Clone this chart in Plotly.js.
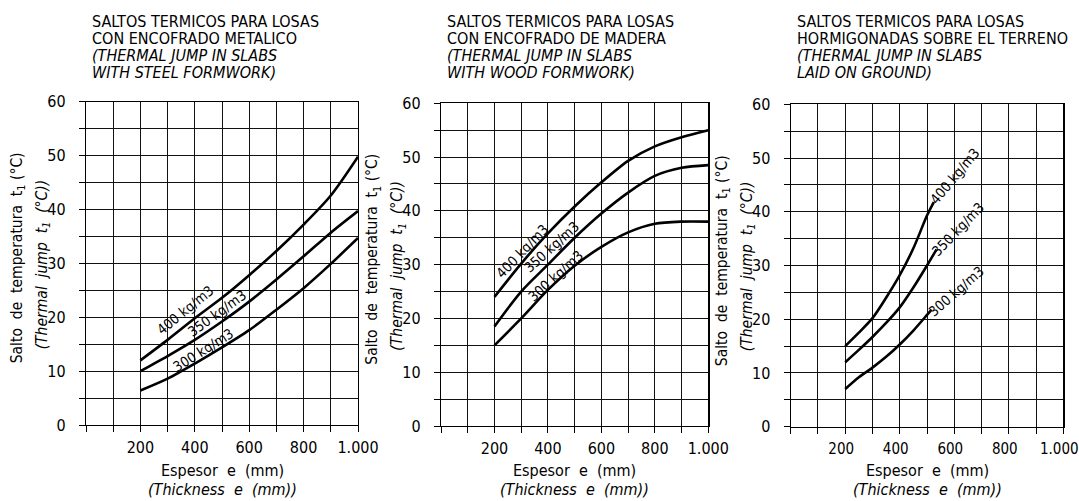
<!DOCTYPE html>
<html><head><meta charset="utf-8">
<script src="https://cdn.plot.ly/plotly-3.0.1.min.js"></script>
<style>html,body{margin:0;padding:0;background:#fff}#chart{width:1079px;height:501px}</style>
</head><body><div id="chart"></div>
<script>
// ---------- data ----------
const thickness = [200, 300, 400, 500, 600, 700, 800, 900, 1000];
const steel400 = [12, 15.8, 19.8, 23.6, 27.8, 32.3, 37.2, 42.6, 49.8];
const steel350 = [10, 12.8, 15.8, 19.2, 22.9, 27, 31.3, 35.7, 39.7];
const steel300 = [6.4, 8.6, 11.4, 14.4, 17.6, 21.4, 25.4, 29.9, 34.7];

const wood400 = [24, 30.2, 35.8, 40.8, 45.3, 49.3, 52, 53.7, 55];
const wood350 = [18.5, 25, 30, 35, 39.5, 43.4, 46.5, 48, 48.5];
const wood300 = [15, 20, 25.3, 29.8, 33.3, 36, 37.6, 38, 38];

const groundX400 = [200, 250, 300, 350, 400, 450, 500, 525];
const ground400 = [15, 17.5, 20.2, 24, 28.2, 33.2, 39.3, 41.8];
const groundX350 = [200, 250, 300, 350, 400, 450, 500, 535];
const ground350 = [12, 14.3, 16.7, 19.3, 22.2, 25.9, 30, 33];
const groundX300 = [200, 250, 300, 350, 400, 450, 500, 517];
const ground300 = [7, 9.2, 11, 13, 15.3, 17.9, 20.8, 21.8];

const xTickVals = [200, 400, 600, 800, 1000];
const xTickText = ['200', '400', '600', '800', '1.000'];
const yTickVals = [0, 10, 20, 30, 40, 50, 60];
const yTickText = ['0', '10', '20', '30', '40', '50', '60'];
const xMinorStep = 100;
const yMinorStep = 5;

const densityLabels = ['400 kg/m3', '350 kg/m3', '300 kg/m3'];

const panelTitles = [
  ['SALTOS TERMICOS PARA LOSAS', 'CON ENCOFRADO METALICO', '<i>(THERMAL JUMP IN SLABS</i>', '<i>WITH STEEL FORMWORK)</i>'],
  ['SALTOS TERMICOS PARA LOSAS', 'CON ENCOFRADO DE MADERA', '<i>(THERMAL JUMP IN SLABS</i>', '<i>WITH WOOD FORMWORK)</i>'],
  ['SALTOS TERMICOS PARA LOSAS', 'HORMIGONADAS SOBRE EL TERRENO', '<i>(THERMAL JUMP IN SLABS</i>', '<i>LAID ON GROUND)</i>']
];
const yTitle1 = 'Salto  de  temperatura  t<sub>1</sub> (°C)';
const yTitle2 = '<i>(Thermal  jump  t<sub>1</sub>  (°C))</i>';
const xTitle1 = 'Espesor  e  (mm)';
const xTitle2 = '<i>(Thickness  e  (mm))</i>';

// ---------- layout helpers ----------
const W = 1079, H = 501;
const FONT = "'Liberation Sans Narrow','DejaVu Sans Condensed','Arial Narrow',sans-serif";
const px = v => v / W;
const py = v => 1 - v / H;

// plot frames in pixels: [left, right, top, bottom]
const frames = [
  [86, 358, 101.7, 425],
  [441, 708.3, 103.3, 426],
  [790.7, 1063.3, 104.3, 426.7]
];

const lineStyle = {color: '#000', width: 2.6, shape: 'spline', smoothing: 0.8};
const traces = [];
function addCurve(x, y, ax) {
  traces.push({x: x, y: y, type: 'scatter', mode: 'lines', line: lineStyle,
    xaxis: ax === 1 ? 'x' : 'x' + ax, yaxis: ax === 1 ? 'y' : 'y' + ax, hoverinfo: 'skip'});
}
addCurve(thickness, steel400, 1); addCurve(thickness, steel350, 1); addCurve(thickness, steel300, 1);
addCurve(thickness, wood400, 2); addCurve(thickness, wood350, 2); addCurve(thickness, wood300, 2);
addCurve(groundX400, ground400, 3); addCurve(groundX350, ground350, 3); addCurve(groundX300, ground300, 3);

const layout = {
  width: W, height: H, margin: {l: 0, r: 0, t: 0, b: 0},
  paper_bgcolor: '#fff', plot_bgcolor: '#fff', showlegend: false,
  font: {family: FONT, color: '#000', size: 16},
  annotations: []
};

frames.forEach((f, i) => {
  const n = i + 1;
  const xk = n === 1 ? 'xaxis' : 'xaxis' + n;
  const yk = n === 1 ? 'yaxis' : 'yaxis' + n;
  const xa = n === 1 ? 'x' : 'x' + n;
  const ya = n === 1 ? 'y' : 'y' + n;
  layout[xk] = {
    domain: [px(f[0]), px(f[1])], anchor: ya, range: [0, 1000],
    tickmode: 'array', tickvals: xTickVals, ticktext: xTickText,
    ticks: 'outside', ticklen: 6, tickwidth: 1, tickcolor: '#000',
    showgrid: true, gridcolor: '#111', gridwidth: 1,
    minor: {tick0: 0, dtick: xMinorStep, ticks: 'outside', ticklen: 6, tickwidth: 1, tickcolor: '#000',
      showgrid: true, gridcolor: '#111', gridwidth: 1},
    showline: true, linecolor: '#000', linewidth: 1.2, mirror: true,
    zeroline: false, fixedrange: true, ticklabeloverflow: 'allow',
    tickfont: {family: FONT, size: n === 3 ? 15 : 16, color: '#000'}, ticklabelstandoff: 2,
    ticklabelshift: n === 3 ? -4 : 0
  };
  layout[yk] = {
    domain: [py(f[3]), py(f[2])], anchor: xa, range: [0, 60],
    tickmode: 'array', tickvals: yTickVals, ticktext: yTickText,
    ticks: 'outside', ticklen: 6, tickwidth: 1, tickcolor: '#000',
    showgrid: true, gridcolor: '#111', gridwidth: 1,
    minor: {tick0: 0, dtick: yMinorStep, ticks: 'outside', ticklen: 6, tickwidth: 1, tickcolor: '#000',
      showgrid: true, gridcolor: '#111', gridwidth: 1},
    showline: true, linecolor: '#000', linewidth: 1.2, mirror: true,
    zeroline: false, fixedrange: true, ticklabeloverflow: 'allow',
    tickfont: {family: FONT, size: 16, color: '#000'}, ticklabelstandoff: 10
  };
  // panel titles
  const ty = [21, 38.5, 56, 73];
  panelTitles[i].forEach((t, k) => {
    layout.annotations.push({text: t, xref: 'paper', yref: 'paper', x: px(f[0] + 4), y: py(ty[k]),
      xanchor: 'left', yanchor: 'middle', showarrow: false, font: {family: FONT, size: 16, color: '#000'}});
  });
  // y titles
  const ycen = (f[2] + f[3]) / 2;
  layout.annotations.push({text: yTitle1, xref: 'paper', yref: 'paper', x: px(f[0] - 68), y: py(ycen - 5),
    xanchor: 'center', yanchor: 'middle', textangle: -90, showarrow: false, font: {family: FONT, size: 15.5}});
  layout.annotations.push({text: yTitle2, xref: 'paper', yref: 'paper', x: px(f[0] - 43), y: py(ycen + 1),
    xanchor: 'center', yanchor: 'middle', textangle: -90, showarrow: false, font: {family: FONT, size: 15.5}});
  // x titles
  const xcen = (f[0] + f[1]) / 2;
  layout.annotations.push({text: xTitle1, xref: 'paper', yref: 'paper', x: px(xcen), y: py(470),
    xanchor: 'center', yanchor: 'middle', showarrow: false, font: {family: FONT, size: 16}});
  layout.annotations.push({text: xTitle2, xref: 'paper', yref: 'paper', x: px(xcen), y: py(489),
    xanchor: 'center', yanchor: 'middle', showarrow: false, font: {family: FONT, size: 16}});
});

// curve labels [panel, labelIndex, x, y, angle]
const labelPos = [
  [1, 0, 364, 21.4, -39], [1, 1, 483, 20.8, -36], [1, 2, 431, 14, -32],
  [2, 0, 304, 32.6, -46], [2, 1, 414, 33.2, -42], [2, 2, 429, 27.8, -42],
  [3, 0, 602, 46.6, -50], [3, 1, 614, 36.8, -46], [3, 2, 608, 25.3, -41]
];
labelPos.forEach(p => {
  layout.annotations.push({text: densityLabels[p[1]], xref: p[0] === 1 ? 'x' : 'x' + p[0], yref: p[0] === 1 ? 'y' : 'y' + p[0],
    x: p[2], y: p[3], textangle: p[4], showarrow: false,
    font: {family: FONT, size: 14, color: '#000'}});
});

Plotly.newPlot('chart', traces, layout, {displayModeBar: false, staticPlot: true});
</script></body></html>
